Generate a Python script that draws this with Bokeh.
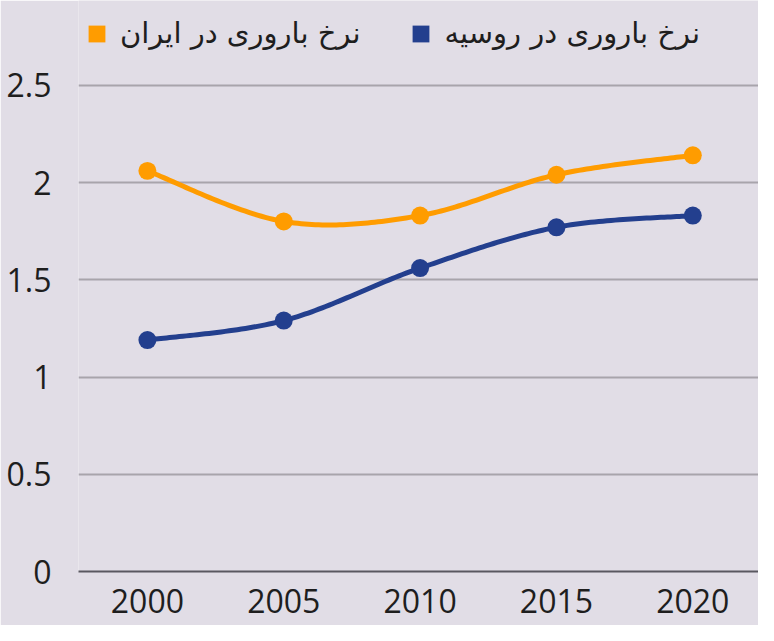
import numpy as np
from bokeh.plotting import figure
from bokeh.models import Legend, LegendItem, FixedTicker, Range1d
from bokeh.embed import file_html
from bokeh.resources import INLINE

# ---- data ----
years = [2000, 2005, 2010, 2015, 2020]
iran = [2.06, 1.80, 1.83, 2.04, 2.14]
russia = [1.19, 1.29, 1.56, 1.77, 1.83]
y_ticks = [0, 0.5, 1, 1.5, 2, 2.5]
y_tick_labels = ["0", "0.5", "1", "1.5", "2", "2.5"]
label_iran = "نرخ باروری در ایران"
label_russia = "نرخ باروری در روسیه"

ORANGE = "#ff9c00"
BLUE = "#233f8e"
BG = "#e1dde6"
GRID = "#a8a4ab"
AXIS = "#5a5860"
TEXT = "#1e1e1e"


def smooth(xs, ys, n=40):
    pts = np.column_stack([xs, ys]).astype(float)
    ext = np.vstack([pts[0], pts, pts[-1]])
    out = []
    t = np.linspace(0, 1, n)[:, None]
    for i in range(len(pts) - 1):
        p0, p1, p2, p3 = ext[i], ext[i + 1], ext[i + 2], ext[i + 3]
        c1 = p1 + (p2 - p0) / 6
        c2 = p2 - (p3 - p1) / 6
        seg = (1 - t) ** 3 * p1 + 3 * (1 - t) ** 2 * t * c1 + 3 * (1 - t) * t ** 2 * c2 + t ** 3 * p2
        out.append(seg if i == 0 else seg[1:])
    arr = np.vstack(out)
    return arr[:, 0], arr[:, 1]


p = figure(width=758, height=625, output_backend="svg", toolbar_location=None,
           x_range=Range1d(1997.473, 2022.41), y_range=Range1d(0, 2.936),
           min_border_left=78, min_border_right=0, min_border_top=0, min_border_bottom=54,
           background_fill_color=BG, border_fill_color=BG, outline_line_color=None)

# axes
p.yaxis.ticker = FixedTicker(ticks=y_ticks)
p.yaxis.major_label_overrides = {float(k): v for k, v in zip(y_ticks, y_tick_labels)}
p.yaxis.axis_line_color = None
p.yaxis.major_tick_line_color = None
p.yaxis.minor_tick_line_color = None
p.yaxis.major_label_standoff = 21
p.yaxis.major_label_text_font = "Open Sans"
p.yaxis.major_label_text_font_size = "32px"
p.yaxis.major_label_text_color = TEXT

p.xaxis.ticker = FixedTicker(ticks=years)
p.xaxis.major_label_overrides = {float(y): str(y) for y in years}
p.xaxis.axis_line_color = AXIS
p.xaxis.axis_line_width = 2
p.xaxis.major_tick_line_color = None
p.xaxis.minor_tick_line_color = None
p.xaxis.major_label_standoff = 11
p.xaxis.major_label_text_font = "Open Sans"
p.xaxis.major_label_text_font_size = "32px"
p.xaxis.major_label_text_color = TEXT

p.xgrid.grid_line_color = None
p.ygrid.grid_line_color = GRID
p.ygrid.grid_line_width = 2
p.ygrid.ticker = FixedTicker(ticks=y_ticks)

# series
xi, yi = smooth(years, iran)
xr, yr = smooth(years, russia)
p.line(xi, yi, line_color=ORANGE, line_width=5, line_join="round", line_cap="round")
p.scatter(years, iran, size=18, fill_color=ORANGE, line_color=None)
p.line(xr, yr, line_color=BLUE, line_width=5, line_join="round", line_cap="round")
p.scatter(years, russia, size=18, fill_color=BLUE, line_color=None)

# legend swatches (invisible in the plot area, shown in the legend only)
nan = [float("nan")]
q_i = p.quad(left=nan, right=nan, top=nan, bottom=nan, fill_color=ORANGE, line_color=None)
q_r = p.quad(left=nan, right=nan, top=nan, bottom=nan, fill_color=BLUE, line_color=None)
legend = Legend(items=[LegendItem(label=label_iran, renderers=[q_i]),
                       LegendItem(label=label_russia, renderers=[q_r])],
                orientation="horizontal", location=(8, 521), margin=0, padding=0,
                spacing=50, glyph_width=21, glyph_height=21, label_standoff=13,
                label_text_font="DejaVu Sans", label_text_font_size="29px",
                label_text_color=TEXT, background_fill_alpha=0, border_line_color=None)
p.add_layout(legend)

open("out.html", "w").write(file_html(p, INLINE))
